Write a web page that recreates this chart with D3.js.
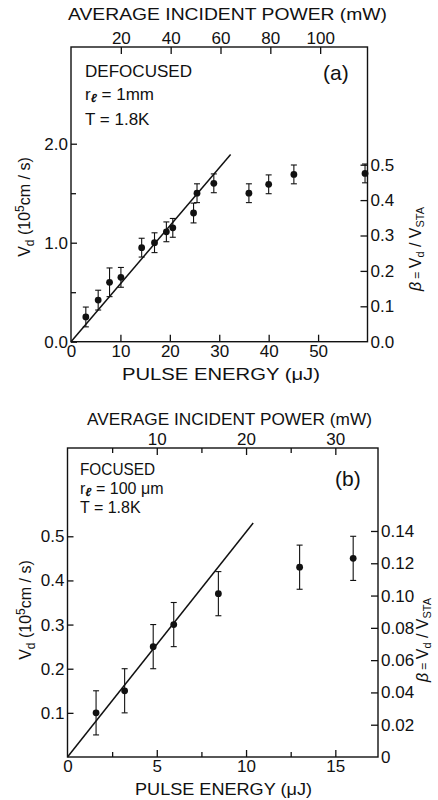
<!DOCTYPE html>
<html>
<head>
<meta charset="utf-8">
<script src="https://cdn.jsdelivr.net/npm/d3@7"></script>
<style>
body { margin: 0; background: #fff; }
text { font-family: "Liberation Sans", Arial, sans-serif; fill: #111; }
.frame { fill: none; stroke: #111; stroke-width: 1.4; }
.tick line { stroke: #111; stroke-width: 1.3; }
.fit { fill: none; stroke: #111; stroke-width: 1.5; }
.err { stroke: #111; stroke-width: 1.1; }
</style>
</head>
<body>
<script>
// panel (a): defocused
var energyA   = [3.0, 5.5, 7.8, 10.1, 14.3, 16.9, 19.3, 20.6, 24.8, 25.5, 28.9, 36.0, 40.0, 45.1, 59.5];
var velocityA = [0.25, 0.42, 0.60, 0.65, 0.95, 1.00, 1.11, 1.15, 1.30, 1.50, 1.60, 1.50, 1.59, 1.69, 1.70];
var errorA    = [0.10, 0.10, 0.145, 0.10, 0.095, 0.10, 0.10, 0.095, 0.10, 0.095, 0.095, 0.095, 0.095, 0.095, 0.095];
var fitEnergyA = [0, 32.3];
var fitVelocityA = [0, 1.89];
var leftTicksA = [0, 1.0, 2.0];
var leftMinorA = [0.5, 1.5];
var bottomTicksA = [0, 10, 20, 30, 40, 50];
var topTicksA = [20, 40, 60, 80, 100];
var rightTicksA = [0, 0.1, 0.2, 0.3, 0.4, 0.5];

// panel (b): focused
var energyB   = [1.6, 3.2, 4.8, 5.95, 8.45, 13.0, 16.0];
var velocityB = [0.10, 0.15, 0.25, 0.30, 0.37, 0.43, 0.45];
var errorB    = [0.05, 0.05, 0.05, 0.05, 0.05, 0.05, 0.05];
var fitEnergyB = [0, 10.4];
var fitVelocityB = [0, 0.53];
var leftTicksB = [0.1, 0.2, 0.3, 0.4, 0.5];
var bottomTicksB = [5, 10, 15];
var bottomMinorB = [2.5, 7.5, 12.5];
var topTicksB = [10, 20, 30];
var topMinorB = [5, 15, 25];
var rightTicksB = [0, 0.02, 0.04, 0.06, 0.08, 0.10, 0.12, 0.14];

var svg = d3.select("body").append("svg").attr("width", 438).attr("height", 800);

function panel(p) {
  var g = svg.append("g");
  var x = d3.scaleLinear().domain(p.xDomain).range([p.left, p.right]);
  var y = d3.scaleLinear().domain(p.yDomain).range([p.bottom, p.top]);
  var xTop = d3.scaleLinear().domain(p.topDomain).range([p.left, p.right]);
  var yRight = d3.scaleLinear().domain(p.rightDomain).range([p.bottom, p.top]);

  function axis(gen, tr, ticks, fmt, size) {
    var a = g.append("g").attr("transform", tr)
      .call(gen.tickValues(ticks).tickSize(size).tickPadding(p.pad).tickFormat(fmt));
    a.select(".domain").remove();
    a.selectAll("text").style("font-size", "17px").style("font-family", null);
    return a;
  }
  var none = function() { return ""; };

  axis(d3.axisLeft(y), "translate(" + p.left + ",0)", p.leftTicks, p.leftFmt, -6);
  if (p.leftMinor) axis(d3.axisLeft(y), "translate(" + p.left + ",0)", p.leftMinor, none, -5);
  var b = axis(d3.axisBottom(x), "translate(0," + p.bottom + ")", p.bottomTicks, p.bottomFmt, -7);
  b.selectAll(".tick").filter(function(d) { return d === 0; }).select("line").remove();
  if (p.bottomMinor) axis(d3.axisBottom(x), "translate(0," + p.bottom + ")", p.bottomMinor, none, -5);
  axis(d3.axisTop(xTop), "translate(0," + p.top + ")", p.topTicks, d3.format("d"), -7);
  if (p.topMinor) axis(d3.axisTop(xTop), "translate(0," + p.top + ")", p.topMinor, none, -5);
  var r = axis(d3.axisRight(yRight), "translate(" + p.right + ",0)", p.rightTicks, p.rightFmt, -7);
  r.selectAll(".tick").filter(function(d) { return d === 0; }).select("line").remove();

  g.append("rect").attr("class", "frame")
    .attr("x", p.left).attr("y", p.top)
    .attr("width", p.right - p.left).attr("height", p.bottom - p.top);

  // fitted line
  g.append("path").attr("class", "fit")
    .datum(d3.range(p.fitE.length))
    .attr("d", d3.line().x(function(i) { return x(p.fitE[i]); }).y(function(i) { return y(p.fitV[i]); }));

  // data with error bars
  var pts = g.selectAll(".pt").data(d3.range(p.E.length)).enter().append("g");
  pts.append("line").attr("class", "err")
    .attr("x1", function(i) { return x(p.E[i]); }).attr("x2", function(i) { return x(p.E[i]); })
    .attr("y1", function(i) { return y(p.V[i] - p.err[i]); })
    .attr("y2", function(i) { return y(p.V[i] + p.err[i]); });
  [-1, 1].forEach(function(s) {
    pts.append("line").attr("class", "err")
      .attr("x1", function(i) { return x(p.E[i]) - 3; }).attr("x2", function(i) { return x(p.E[i]) + 3; })
      .attr("y1", function(i) { return y(p.V[i] + s * p.err[i]); })
      .attr("y2", function(i) { return y(p.V[i] + s * p.err[i]); });
  });
  pts.append("circle")
    .attr("cx", function(i) { return x(p.E[i]); })
    .attr("cy", function(i) { return y(p.V[i]); })
    .attr("r", 3.4).attr("fill", "#111");

  // axis titles
  g.append("text").attr("x", p.topTitle[0]).attr("y", p.topTitle[1])
    .attr("textLength", p.topTitle[2]).attr("lengthAdjust", "spacingAndGlyphs")
    .style("font-size", "17px").text("AVERAGE INCIDENT POWER (mW)");
  g.append("text").attr("x", p.botTitle[0]).attr("y", p.botTitle[1])
    .attr("textLength", p.botTitle[2]).attr("lengthAdjust", "spacingAndGlyphs")
    .style("font-size", "17px").text("PULSE ENERGY (\u03bcJ)");

  var lt = g.append("text")
    .attr("transform", "translate(" + p.leftTitle[0] + "," + p.leftTitle[1] + ") rotate(-90)")
    .attr("text-anchor", "middle").style("font-size", "16px");
  lt.append("tspan").text("V");
  lt.append("tspan").attr("dy", 4).style("font-size", "12px").text("d");
  lt.append("tspan").attr("dy", -4).text(" (10");
  lt.append("tspan").attr("dy", -6).style("font-size", "12px").text("5");
  lt.append("tspan").attr("dy", 6).text("cm / s)");

  var rt = g.append("text")
    .attr("transform", "translate(" + p.rightTitle[0] + "," + p.rightTitle[1] + ") rotate(-90)")
    .attr("text-anchor", "middle").style("font-size", "16px");
  rt.append("tspan").style("font-style", "italic").text("\u03b2");
  rt.append("tspan").style("font-size", "12px").text(" = ");
  rt.append("tspan").text("V");
  rt.append("tspan").attr("dy", 3).style("font-size", "11px").text("d");
  rt.append("tspan").attr("dy", -3).text(" / V");
  rt.append("tspan").attr("dy", 3).style("font-size", "11px").text("STA");

  // annotations
  g.append("text").attr("x", p.note[0]).attr("y", p.note[1])
    .attr("textLength", p.note[2]).attr("lengthAdjust", "spacingAndGlyphs")
    .style("font-size", "17px").text(p.mode);
  var rl = g.append("text").attr("x", p.note[0]).attr("y", p.note[3]).style("font-size", p.noteSize);
  rl.append("tspan").text("r");
  rl.append("tspan").attr("dy", 2).style("font-size", "12px").style("font-weight", "bold")
    .style("font-style", "italic").text("\u2113");
  rl.append("tspan").attr("dy", -2).text(" = " + p.radius);
  g.append("text").attr("x", p.note[0]).attr("y", p.note[4]).style("font-size", p.noteSize).text("T = 1.8K");
  g.append("text").attr("x", p.tag[0]).attr("y", p.tag[1]).style("font-size", "21px").text(p.tag[2]);
}

panel({
  left: 71, right: 367.5, top: 47, bottom: 341.7, pad: 3,
  xDomain: [0, 60], yDomain: [0, 2.977], topDomain: [0, 119], rightDomain: [0, 0.8325],
  E: energyA, V: velocityA, err: errorA, fitE: fitEnergyA, fitV: fitVelocityA,
  leftTicks: leftTicksA, leftMinor: leftMinorA, leftFmt: d3.format(".1f"),
  bottomTicks: bottomTicksA, bottomFmt: d3.format("d"),
  topTicks: topTicksA, rightTicks: rightTicksA, rightFmt: d3.format(".1f"),
  topTitle: [68, 20, 319], botTitle: [122, 380, 198],
  leftTitle: [30, 207], rightTitle: [421, 249],
  mode: "DEFOCUSED", radius: "1mm", note: [85, 77, 107, 100, 125], noteSize: "17px",
  tag: [323, 80, "(a)"]
});

panel({
  left: 67.5, right: 378, top: 448, bottom: 757, pad: 3,
  xDomain: [0, 17.39], yDomain: [0, 0.70], topDomain: [0, 34.78], rightDomain: [0, 0.1914],
  E: energyB, V: velocityB, err: errorB, fitE: fitEnergyB, fitV: fitVelocityB,
  leftTicks: leftTicksB, leftFmt: d3.format(".1f"),
  bottomTicks: [0].concat(bottomTicksB), bottomMinor: bottomMinorB, bottomFmt: d3.format("d"),
  topTicks: topTicksB, topMinor: topMinorB,
  rightTicks: rightTicksB, rightFmt: function(d) { return d === 0 ? "0" : d3.format(".2f")(d); },
  topTitle: [87, 425, 285], botTitle: [135, 795, 177],
  leftTitle: [31, 610], rightTitle: [428, 640],
  mode: "FOCUSED", radius: "100 \u03bcm", note: [80, 475, 75, 494, 513], noteSize: "16px",
  tag: [335, 486, "(b)"]
});
</script>
</body>
</html>
